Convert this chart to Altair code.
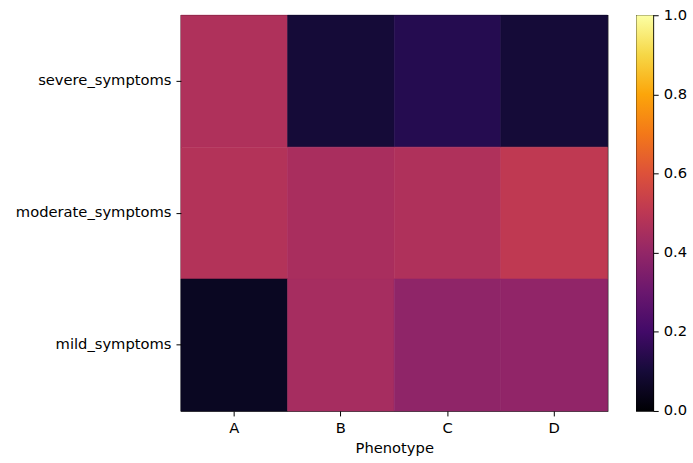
import altair as alt
import pandas as pd

phenotypes = ["A", "B", "C", "D"]
severities = ["severe_symptoms", "moderate_symptoms", "mild_symptoms"]
severe_vals = [0.47, 0.095, 0.135, 0.095]
moderate_vals = [0.48, 0.455, 0.47, 0.51]
mild_vals = [0.06, 0.445, 0.39, 0.395]
cbar_ticks = [0.0, 0.2, 0.4, 0.6, 0.8, 1.0]

# inferno stops for the colour bar ramp (style only)
inferno_stops = ["#000004", "#160b39", "#420a68", "#6a176e", "#932667", "#bc3754",
                 "#dd513a", "#f37819", "#fca50a", "#f6d746", "#fcffa4"]

rows = []
for sev, vals in zip(severities, [severe_vals, moderate_vals, mild_vals]):
    for p, v in zip(phenotypes, vals):
        rows.append({"Phenotype": p, "Severity": sev, "value": v})
df = pd.DataFrame(rows)

FONT = "DejaVu Sans"
FS = 14.8
cscale = alt.Scale(scheme="inferno", domain=[0, 1])

heat = alt.Chart(df).mark_rect(strokeWidth=0.6).encode(
    x=alt.X("Phenotype:N", sort=phenotypes, title="Phenotype",
            scale=alt.Scale(paddingInner=0, paddingOuter=0),
            axis=alt.Axis(labelAngle=0, domain=False, tickColor="black",
                          tickSize=5, labelFontSize=FS, titleFontSize=FS,
                          labelColor="black", titleColor="black",
                          titleFontWeight="normal", labelPadding=5, titlePadding=5,
                          labelFont=FONT, titleFont=FONT)),
    y=alt.Y("Severity:N", sort=severities, title=None,
            scale=alt.Scale(paddingInner=0, paddingOuter=0),
            axis=alt.Axis(domain=False, tickColor="black", tickSize=5,
                          labelFontSize=FS, labelColor="black", labelPadding=5,
                          labelFont=FONT)),
    color=alt.Color("value:Q", scale=cscale, legend=None),
    stroke=alt.Stroke("value:Q", scale=cscale, legend=None),
).properties(width=429, height=398)

cbar_df = pd.DataFrame({"lo": [cbar_ticks[0]], "hi": [cbar_ticks[-1]]})
n = len(inferno_stops) - 1
gradient = alt.Gradient(
    gradient="linear",
    stops=[alt.GradientStop(color=c, offset=i / n) for i, c in enumerate(inferno_stops)],
    x1=0, x2=0, y1=1, y2=0,
)
cbar = alt.Chart(cbar_df).mark_rect(fill=gradient).encode(
    y=alt.Y("lo:Q", scale=alt.Scale(domain=[0, 1], nice=False, zero=False),
            axis=alt.Axis(orient="right", values=cbar_ticks, format=".1f",
                          title=None, domain=False, grid=False, tickColor="black",
                          tickSize=5, labelFontSize=FS, labelColor="black",
                          labelPadding=5, labelFont=FONT)),
    y2="hi:Q",
    x=alt.value(0),
    x2=alt.value(17),
).properties(width=17, height=398)

chart = alt.hconcat(heat, cbar, spacing=27).properties(
    padding={"left": 14, "top": 5, "right": 5, "bottom": 5},
).configure_view(stroke="black", strokeWidth=1.2).configure_axis(
    labelFont=FONT, titleFont=FONT
)

chart.save("out.html", embed_options={"renderer": "svg", "actions": False})
